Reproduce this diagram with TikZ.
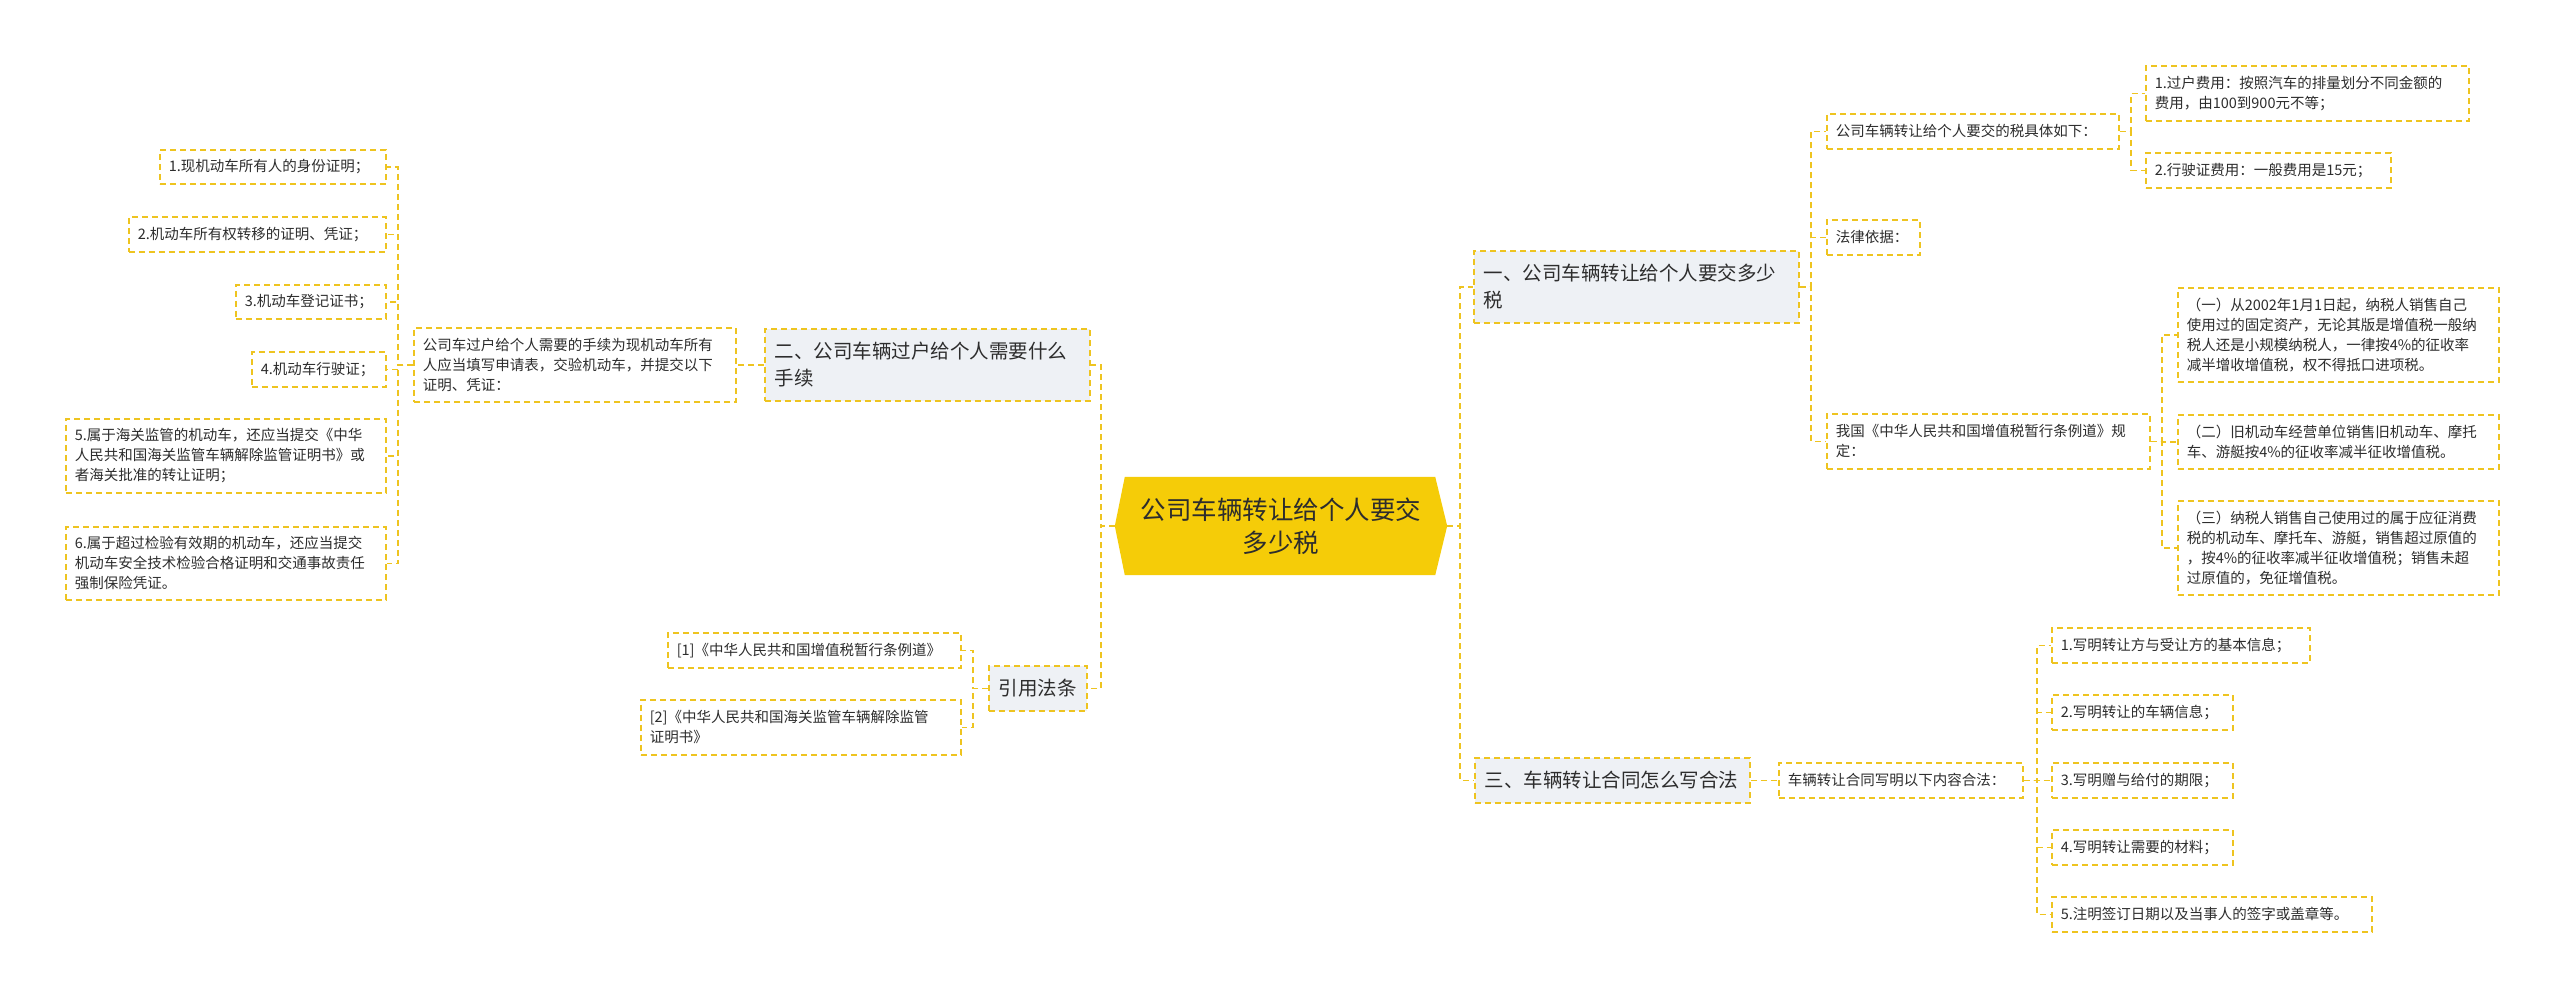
\documentclass[tikz,border=0pt]{standalone}
\usepackage{fontspec}
\setmainfont{Noto Sans CJK SC}
\usetikzlibrary{calc}
\definecolor{ylw}{RGB}{238,196,32}
\definecolor{gold}{RGB}{245,204,8}
\definecolor{lvl}{RGB}{238,241,245}
\definecolor{txt}{RGB}{45,45,45}
\pgfdeclarelayer{bg}\pgfsetlayers{bg,main}
\tikzset{
 conn/.style={draw=ylw, line width=1.5pt, dash pattern=on 6pt off 4pt},
 leaf/.style={draw=ylw, line width=1.5pt, dash pattern=on 6pt off 4pt, fill=white, text=txt,
   inner xsep=9pt, inner ysep=0pt, align=left, anchor=north west,
   font=\fontsize{14.5}{20}\selectfont},
 topic/.style={leaf, fill=lvl, inner xsep=10pt, font=\fontsize{19.5}{27}\selectfont},
 rootnode/.style={text=txt, align=center, font=\fontsize{25.5}{33}\selectfont,
   minimum width=332pt, minimum height=98pt, inner sep=0pt}
}
\begin{document}
\begin{tikzpicture}[x=1pt,y=-1pt]
\path[use as bounding box] (0,0) rectangle (2560,997);

% root
\node[rootnode] (root) at (1281,526) {公司车辆转让给个人要交\\多少税};
\begin{pgfonlayer}{bg}
\fill[white] (0,0) rectangle (2560,997);
\fill[gold] (root.west) -- ([xshift=10pt]root.north west) -- ([xshift=-12pt]root.north east)
  -- (root.east) -- ([xshift=-12pt]root.south east) -- ([xshift=10pt]root.south west) -- cycle;
\end{pgfonlayer}

% topics
\node[topic, text width=305pt, minimum height=72pt] (n1) at (1473,250) {一、公司车辆转让给个人要交多少\\税};
\node[topic, text width=305pt, minimum height=72pt] (n2) at (764,328) {二、公司车辆过户给个人需要什么\\手续};
\node[topic, text width=255pt, minimum height=45pt] (n3) at (1474,757) {三、车辆转让合同怎么写合法};
\node[topic, text width=78pt, minimum height=45pt] (n4) at (988,665) {引用法条};

% right branch one
\node[leaf, text width=274pt, minimum height=35pt] (a) at (1826,113) {公司车辆转让给个人要交的税具体如下：};
\node[leaf, text width=305pt, minimum height=55pt] (a1) at (2145,65) {1.过户费用：按照汽车的排量划分不同金额的\\费用，由100到900元不等；};
\node[leaf, text width=227pt, minimum height=35pt] (a2) at (2145,152) {2.行驶证费用：一般费用是15元；};
\node[leaf, text width=75pt, minimum height=35pt] (b) at (1826,219) {法律依据：};
\node[leaf, text width=305pt, minimum height=55pt] (c) at (1826,413) {我国《中华人民共和国增值税暂行条例道》规\\定：};
\node[leaf, text width=303pt, minimum height=94pt] (c1) at (2177,287) {（一）从2002年1月1日起，纳税人销售自己\\使用过的固定资产，无论其版是增值税一般纳\\税人还是小规模纳税人，一律按4\%的征收率\\减半增收增值税，权不得抵口进项税。};
\node[leaf, text width=303pt, minimum height=54pt] (c2) at (2177,414) {（二）旧机动车经营单位销售旧机动车、摩托\\车、游艇按4\%的征收率减半征收增值税。};
\node[leaf, text width=303pt, minimum height=94pt] (c3) at (2177,500) {（三）纳税人销售自己使用过的属于应征消费\\税的机动车、摩托车、游艇，销售超过原值的\\，按4\%的征收率减半征收增值税；销售未超\\过原值的，免征增值税。};

% right branch three
\node[leaf, text width=226pt, minimum height=35pt] (d) at (1778,762) {车辆转让合同写明以下内容合法：};
\node[leaf, text width=240pt, minimum height=35pt] (d1) at (2051,627) {1.写明转让方与受让方的基本信息；};
\node[leaf, text width=163pt, minimum height=35pt] (d2) at (2051,694) {2.写明转让的车辆信息；};
\node[leaf, text width=163pt, minimum height=35pt] (d3) at (2051,762) {3.写明赠与给付的期限；};
\node[leaf, text width=163pt, minimum height=35pt] (d4) at (2051,829) {4.写明转让需要的材料；};
\node[leaf, text width=302pt, minimum height=35pt] (d5) at (2051,896) {5.注明签订日期以及当事人的签字或盖章等。};

% left branch two
\node[leaf, text width=304pt, minimum height=74pt] (e) at (413,327) {公司车过户给个人需要的手续为现机动车所有\\人应当填写申请表，交验机动车，并提交以下\\证明、凭证：};
\node[leaf, text width=208pt, minimum height=34pt] (e1) at (159,149) {1.现机动车所有人的身份证明；};
\node[leaf, text width=239pt, minimum height=35pt] (e2) at (128,216) {2.机动车所有权转移的证明、凭证；};
\node[leaf, text width=132pt, minimum height=34pt] (e3) at (235,284) {3.机动车登记证书；};
\node[leaf, text width=116pt, minimum height=35pt] (e4) at (251,351) {4.机动车行驶证；};
\node[leaf, text width=302pt, minimum height=74pt] (e5) at (65,418) {5.属于海关监管的机动车，还应当提交《中华\\人民共和国海关监管车辆解除监管证明书》或\\者海关批准的转让证明；};
\node[leaf, text width=302pt, minimum height=73pt] (e6) at (65,526) {6.属于超过检验有效期的机动车，还应当提交\\机动车安全技术检验合格证明和交通事故责任\\强制保险凭证。};

% references
\node[leaf, text width=275pt, minimum height=35pt] (f1) at (667,632) {[1]《中华人民共和国增值税暂行条例道》};
\node[leaf, text width=302pt, minimum height=55pt] (f2) at (640,699) {[2]《中华人民共和国海关监管车辆解除监管\\证明书》};

% spines
\coordinate (sR) at (1460,0);
\coordinate (sL) at (1101,0);
\coordinate (s1) at (1811,0);
\coordinate (sA) at (2131,0);
\coordinate (sC) at (2162,0);
\coordinate (s3) at (1763,0);
\coordinate (sD) at (2037,0);
\coordinate (sE) at (398,0);
\coordinate (sF) at (973,0);

% connectors
\draw[conn] (root.east) -- (root.east -| sR) |- (n1.west);
\draw[conn] (root.east) -- (root.east -| sR) |- (n3.west);
\draw[conn] (root.west) -- (root.west -| sL) |- (n2.east);
\draw[conn] (root.west) -- (root.west -| sL) |- (n4.east);

\draw[conn] (n1.east) -- (n1.east -| s1) |- (a.west);
\draw[conn] (n1.east) -- (n1.east -| s1) |- (b.west);
\draw[conn] (n1.east) -- (n1.east -| s1) |- (c.west);
\draw[conn] (a.east) -- (a.east -| sA) |- (a1.west);
\draw[conn] (a.east) -- (a.east -| sA) |- (a2.west);
\draw[conn] (c.east) -- (c.east -| sC) |- (c1.west);
\draw[conn] (c.east) -- (c.east -| sC) |- (c2.west);
\draw[conn] (c.east) -- (c.east -| sC) |- (c3.west);

\draw[conn] (n3.east) -- (n3.east -| s3) |- (d.west);
\foreach \k in {d1,d2,d3,d4,d5}
  \draw[conn] (d.east) -- (d.east -| sD) |- (\k.west);

\draw[conn] (n2.west) -- (e.east);
\foreach \k in {e1,e2,e3,e4,e5,e6}
  \draw[conn] (e.west) -- (e.west -| sE) |- (\k.east);

\foreach \k in {f1,f2}
  \draw[conn] (n4.west) -- (n4.west -| sF) |- (\k.east);
\end{tikzpicture}
\end{document}
